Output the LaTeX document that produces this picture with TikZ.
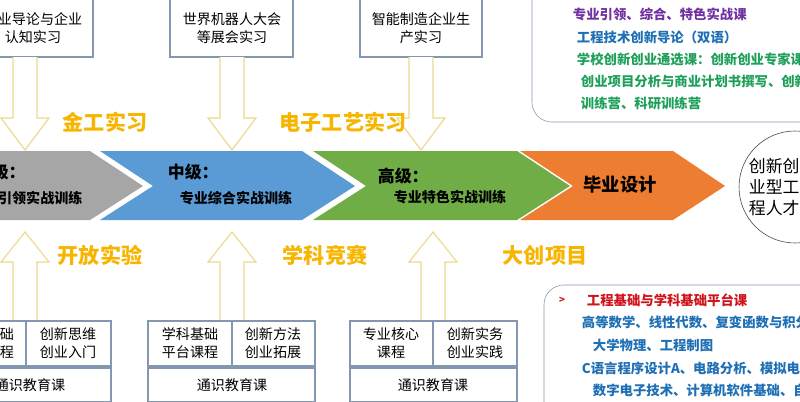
\documentclass[tikz,border=0pt]{standalone}
\usepackage{fontspec}
\setmainfont{Noto Sans CJK SC}
\usetikzlibrary{calc}
\definecolor{lvgray}{HTML}{A6A6A6}
\definecolor{lvblue}{HTML}{5B9BD5}
\definecolor{lvgreen}{HTML}{70AD47}
\definecolor{lvorange}{HTML}{ED7D31}
\definecolor{lblyellow}{HTML}{F7B500}
\definecolor{arryellow}{HTML}{EBD98C}
\definecolor{boxline}{HTML}{8497B0}
\definecolor{txpurple}{HTML}{7030A0}
\definecolor{txblue}{HTML}{1F6FB5}
\definecolor{txgreen}{HTML}{1FA05A}
\definecolor{txred}{HTML}{D0121B}
\tikzset{
  box/.style={draw=boxline,thick,fill=white},
  boxtext/.style={font=\fontsize{10}{13}\selectfont,align=center},
  stagelabel/.style={font=\fontsize{15}{18}\selectfont\bfseries,text=lblyellow},
  hollow/.style={draw=arryellow,thick,fill=white},
  listtext/.style={font=\fontsize{9.5}{11}\selectfont\bfseries,anchor=west}
}
% hollow arrow: centre x, shaft start y, head base y, tip y
\newcommand\hollowarrow[4]{%
\draw[hollow](#1-12,#2)--(#1-12,#3)--(#1-24,#3)--(#1,#4)--(#1+24,#3)--(#1+12,#3)--(#1+12,#2);}
\begin{document}
\begin{tikzpicture}[x=0.025cm,y=-0.025cm]
\useasboundingbox(0,0)rectangle(800,401);
\clip(0,0)rectangle(800,401);
%top boxes
\draw[box](-60,-10)rectangle(93,57);
\node[boxtext](t1)at(33,28){专业导论与企业\\认知实习};
\draw[box](170,-10)rectangle(293,57);
\node[boxtext](t2)at(232,28){世界机器人大会\\等展会实习};
\draw[box](360,-10)rectangle(482,57);
\node[boxtext](t3)at(421,28){智能制造企业生\\产实习};
%down arrows
\hollowarrow{25}{57}{118}{150}
\hollowarrow{232}{57}{118}{150}
\hollowarrow{421}{57}{118}{150}
\node[stagelabel](l1)at(105,122){金工实习};
\node[stagelabel](l2)at(343,122){电子工艺实习};
%chevrons
\fill[lvgray](-60,151)--(90,151)--(143,186)--(90,220)--(-60,220)--cycle;
\fill[lvblue](100,151)--(302,151)--(355,186)--(302,220)--(100,220)--(153,186)--cycle;
\fill[lvgreen](313,151)--(517,151)--(570,186)--(517,220)--(313,220)--(366,186)--cycle;
\fill[lvorange](520,151)--(673,151)--(725,186)--(673,220)--(520,220)--(573,186)--cycle;
\node[font=\fontsize{12}{14}\selectfont\bfseries,anchor=west](c1)at(-30,172){初级：};
\node[font=\fontsize{10}{12}\selectfont\bfseries,anchor=west](c1b)at(-35,198){专业引领实战训练};
\node[font=\fontsize{12}{14}\selectfont\bfseries,anchor=west](c2)at(163,172){中级：};
\node[font=\fontsize{10}{12}\selectfont\bfseries](c2b)at(236,198){专业综合实战训练};
\node[font=\fontsize{12}{14}\selectfont\bfseries,anchor=west](c3)at(373,176){高级：};
\node[font=\fontsize{10}{12}\selectfont\bfseries](c3b)at(450,197){专业特色实战训练};
\node[font=\fontsize{13}{15}\selectfont\bfseries](c4)at(620,185){毕业设计};
%goal
\draw[thin,draw=darkgray](795,187)circle(56);
\node[font=\fontsize{12}{15}\selectfont,anchor=west,align=left](goal)at(744,187){创新创\\业型工\\程人才};
%up arrows
\hollowarrow{25}{322}{262}{232}
\hollowarrow{232}{322}{262}{232}
\hollowarrow{433}{322}{262}{232}
\node[stagelabel](l3)at(100,255){开放实验};
\node[stagelabel](l4)at(325,255){学科竞赛};
\node[stagelabel](l5)at(545,255){大创项目};
%bottom boxes
\foreach \xa/\xm/\xb in {-60/26/111, 148/232/315, 350/433/517}{
  \draw[box](\xa,321)rectangle(\xm,366);
  \draw[box](\xm,321)rectangle(\xb,366);
  \draw[box](\xa,368)rectangle(\xb,402);
}
\node[boxtext,anchor=east](b1a)at(19,343){基础\\课程};
\node[boxtext](b1b)at(68,343){创新思维\\创业入门};
\node[boxtext](b1c)at(30,385){通识教育课};
\node[boxtext](b2a)at(190,343){学科基础\\平台课程};
\node[boxtext](b2b)at(273,343){创新方法\\创业拓展};
\node[boxtext](b2c)at(232,385){通识教育课};
\node[boxtext](b3a)at(391,343){专业核心\\课程};
\node[boxtext](b3b)at(475,343){创新实务\\创业实践};
\node[boxtext](b3c)at(433,385){通识教育课};
%right text boxes
\draw[thin,draw=boxline,rounded corners=14](532,-20)rectangle(840,122);
\node[listtext,text=txpurple](r1)at(568,14){专业引领、综合、特色实战课};
\node[listtext,text=txblue](r2)at(572,37){工程技术创新导论（双语）};
\node[listtext,text=txgreen](r3)at(572,59){学校创新创业通选课：创新创业专家课};
\node[listtext,text=txgreen](r4)at(576,81){创业项目分析与商业计划书撰写、创新};
\node[listtext,text=txgreen](r5)at(576,103){训练营、科研训练营};
\draw[thin,draw=boxline,rounded corners=14](544,285)rectangle(840,430);
\node[font=\fontsize{7}{8}\selectfont\bfseries,text=txred](bul)at(562,300){>};
\node[listtext,text=txred](s1)at(582,300){工程基础与学科基础平台课};
\node[listtext,text=txblue](s2)at(577,322){高等数学、线性代数、复变函数与积分变换};
\node[listtext,text=txblue](s3)at(588,345){大学物理、工程制图};
\node[listtext,text=txblue](s4)at(577,368){C语言程序设计A、电路分析、模拟电子技术};
\node[listtext,text=txblue](s5)at(588,390){数字电子技术、计算机软件基础、自动控制};
\end{tikzpicture}
\end{document}
